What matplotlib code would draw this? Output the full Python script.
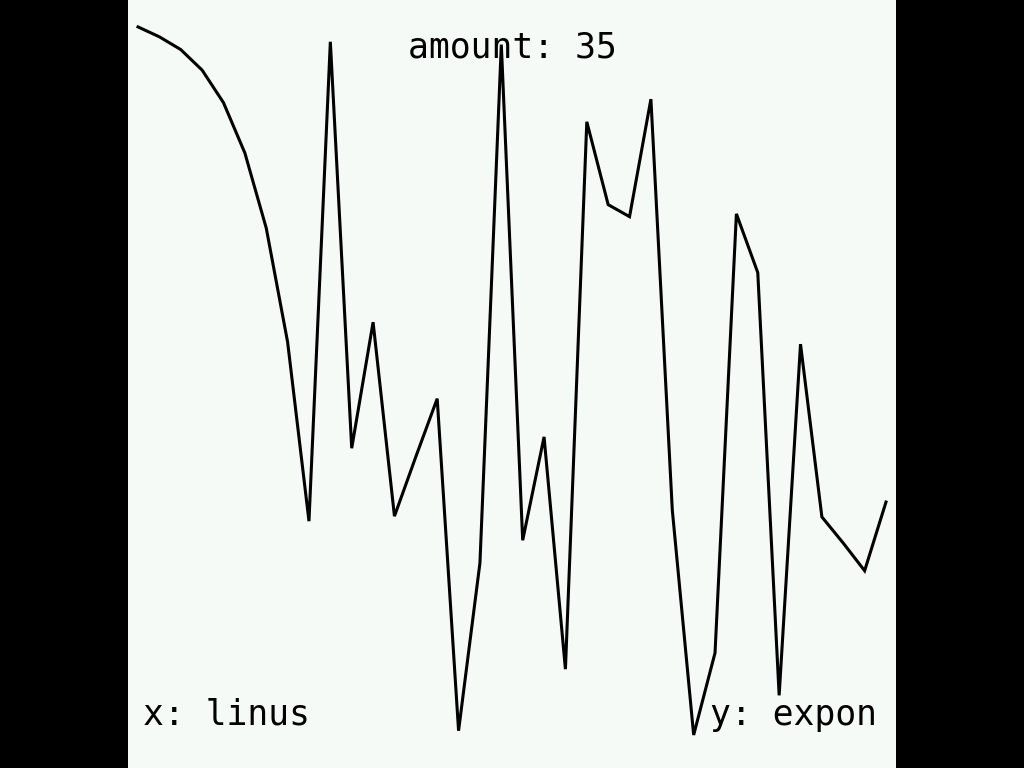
import matplotlib
matplotlib.use("Agg")
import matplotlib.pyplot as plt

# valori della serie (normalizzati 0..1), 36 punti
amount = 35
x_label = "linus"
y_label = "expon"
values = [1.000, 0.986, 0.968, 0.939, 0.893, 0.822, 0.716, 0.555, 0.302, 0.979,
          0.405, 0.583, 0.309, 0.393, 0.475, 0.006, 0.243, 0.975, 0.275, 0.421,
          0.093, 0.866, 0.749, 0.732, 0.898, 0.318, 0.000, 0.116, 0.736, 0.653,
          0.056, 0.552, 0.308, 0.271, 0.232, 0.329]

bg = "#f5faf7"
mono = ["DejaVu Sans Mono"]

fig = plt.figure(figsize=(10.24, 7.68), dpi=100, facecolor="black")
ax = fig.add_axes([0.125, 0.0, 0.75, 1.0])
ax.set_facecolor(bg)

xs = list(range(len(values)))
ax.plot(xs, values, color="black", lw=2.2, solid_joinstyle="miter")

ax.set_xlim(-0.468, amount + 0.468)
ax.set_ylim(-0.0466, 1.038)
# niente assi visibili, solo lo sfondo
for s in ax.spines.values():
    s.set_visible(False)
ax.set_xticks([])
ax.set_yticks([])

# testi
fig.text(0.5, 0.9245, f"amount: {amount}", ha="center", va="baseline",
         fontsize=25, family=mono, color="black")
fig.text(143 / 1024, 0.056, f"x: {x_label}", ha="left", va="baseline",
         fontsize=25, family=mono, color="black")
fig.text(877 / 1024, 0.056, f"y: {y_label}", ha="right", va="baseline",
         fontsize=25, family=mono, color="black")

fig.savefig("out.png", dpi=100, facecolor="black")
